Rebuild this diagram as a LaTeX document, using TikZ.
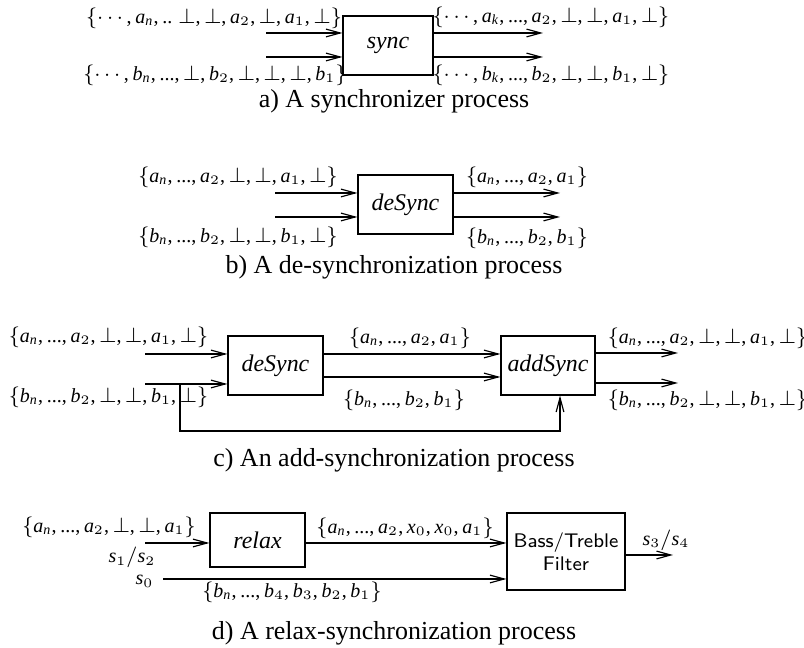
\documentclass[tikz,border=0pt]{standalone}
\usepackage{fontspec}
\setmainfont{Liberation Serif}
\DeclareSymbolFont{letters}{TU}{\rmdefault}{m}{it}
\DeclareSymbolFont{operators}{TU}{\rmdefault}{m}{n}
\mathcode`\,="602C
\mathcode`\.="002E
\mathcode`\/="002F
\usetikzlibrary{arrows.meta}
\begin{document}
\begin{tikzpicture}[x=0.385pt,y=-0.385pt,
  box/.style={draw,line width=0.45pt,inner sep=0pt,font=\itshape\fontsize{9.2}{11}\selectfont},
  arr/.style={line width=0.45pt,-{Straight Barb[length=5.5pt,width=3pt]}},
  lbl/.style={inner sep=0pt,font=\fontsize{7.7}{9}\selectfont},
  captxt/.style={inner sep=0pt}]
\useasboundingbox (0,0) rectangle (804,648);

% ---------------- a) ----------------
\node[box,minimum width=90*0.385pt,minimum height=59*0.385pt] (sync) at (388,45.5) {sync};
\coordinate (aI1) at (266,33);
\coordinate (aI2) at (266,57);
\coordinate (aO1) at (543,33);
\coordinate (aO2) at (543,57);
\draw[arr] (aI1) -- (sync.west |- aI1);
\draw[arr] (aI2) -- (sync.west |- aI2);
\draw[arr] (sync.east |- aO1) -- (aO1);
\draw[arr] (sync.east |- aO2) -- (aO2);
\node[lbl] (la1) at (214,18) {$\{\cdots,a_n,..\;\bot,\bot,a_2,\bot,a_1,\bot\}$};
\node[lbl] (la2) at (215,75) {$\{\cdots,b_n,...,\bot,b_2,\bot,\bot,\bot,b_1\}$};
\node[lbl] (la3) at (551,17) {$\{\cdots,a_k,...,a_2,\bot,\bot,a_1,\bot\}$};
\node[lbl] (la4) at (551,75) {$\{\cdots,b_k,...,b_2,\bot,\bot,b_1,\bot\}$};
\node[captxt] (capa) at (394,101) {a) A synchronizer process};

% ---------------- b) ----------------
\node[box,minimum width=95*0.385pt,minimum height=59*0.385pt] (ds1) at (405.5,204.5) {deSync};
\coordinate (bI1) at (275,193);
\coordinate (bI2) at (275,217);
\coordinate (bO1) at (560,193);
\coordinate (bO2) at (560,217);
\draw[arr] (bI1) -- (ds1.west |- bI1);
\draw[arr] (bI2) -- (ds1.west |- bI2);
\draw[arr] (ds1.east |- bO1) -- (bO1);
\draw[arr] (ds1.east |- bO2) -- (bO2);
\node[lbl] (lb1) at (238,177) {$\{a_n,...,a_2,\bot,\bot,a_1,\bot\}$};
\node[lbl] (lb2) at (238,237) {$\{b_n,...,b_2,\bot,\bot,b_1,\bot\}$};
\node[lbl] (lb3) at (527,177) {$\{a_n,...,a_2,a_1\}$};
\node[lbl] (lb4) at (527,238) {$\{b_n,...,b_2,b_1\}$};
\node[captxt] (capb) at (394,267) {b) A de-synchronization process};

% ---------------- c) ----------------
\node[box,minimum width=95*0.385pt,minimum height=59*0.385pt] (ds2) at (275.5,365.5) {deSync};
\node[box,minimum width=94*0.385pt,minimum height=59*0.385pt] (add) at (548,365.5) {addSync};
\coordinate (cI1) at (145,354);
\coordinate (cI2) at (145,384);
\coordinate (cM1) at (400,354);
\coordinate (cM2) at (400,377);
\coordinate (cO1) at (678,353);
\coordinate (cO2) at (678,383);
\coordinate (cF) at (180,384);
\coordinate (cFB) at (560,431);
\draw[arr] (cI1) -- (ds2.west |- cI1);
\draw[arr] (cI2) -- (ds2.west |- cI2);
\draw[arr] (ds2.east |- cM1) -- (add.west |- cM1);
\draw[arr] (ds2.east |- cM2) -- (add.west |- cM2);
\draw[arr] (add.east |- cO1) -- (cO1);
\draw[arr] (add.east |- cO2) -- (cO2);
\draw[arr] (cF) |- (cFB) -- (add.south -| cFB);
\node[lbl] (lc1) at (108.5,337) {$\{a_n,...,a_2,\bot,\bot,a_1,\bot\}$};
\node[lbl] (lc2) at (108.5,397) {$\{b_n,...,b_2,\bot,\bot,b_1,\bot\}$};
\node[lbl] (lc3) at (410,338) {$\{a_n,...,a_2,a_1\}$};
\node[lbl] (lc4) at (404,400) {$\{b_n,...,b_2,b_1\}$};
\node[lbl] (lc5) at (707.5,338) {$\{a_n,...,a_2,\bot,\bot,a_1,\bot\}$};
\node[lbl] (lc6) at (707.5,400) {$\{b_n,...,b_2,\bot,\bot,b_1,\bot\}$};
\node[captxt] (capc) at (394,460) {c) An add-synchronization process};

% ---------------- d) ----------------
\node[box,minimum width=95*0.385pt,minimum height=54*0.385pt] (relax) at (257.5,540) {relax};
\node[box,minimum width=118*0.385pt,minimum height=77*0.385pt,align=center,
      font=\sffamily\upshape\fontsize{7.6}{9}\selectfont] (filt) at (566,551.5) {Bass/Treble\\Filter};
\coordinate (dI) at (145,543);
\coordinate (dS) at (163,579);
\coordinate (dO) at (673,555);
\draw[arr] (dI) -- (relax.west |- dI);
\draw[arr] (relax.east |- dI) -- (filt.west |- dI);
\draw[arr] (dS) -- (filt.west |- dS);
\draw[arr] (filt.east |- dO) -- (dO);
\node[lbl] (ld1) at (109,527) {$\{a_n,...,a_2,\bot,\bot,a_1\}$};
\node[lbl,anchor=base] (ld2) at (132,563) {$s_1/s_2$};
\node[lbl,anchor=base] (ld3) at (144.5,585) {$s_0$};
\node[lbl] (ld4) at (292,592) {$\{b_n,...,b_4,b_3,b_2,b_1\}$};
\node[lbl] (ld5) at (405,528) {$\{a_n,...,a_2,x_0,x_0,a_1\}$};
\node[lbl] (ld6) at (666,540) {$s_3/s_4$};
\node[captxt] (capd) at (394,633) {d) A relax-synchronization process};
\end{tikzpicture}
\end{document}
